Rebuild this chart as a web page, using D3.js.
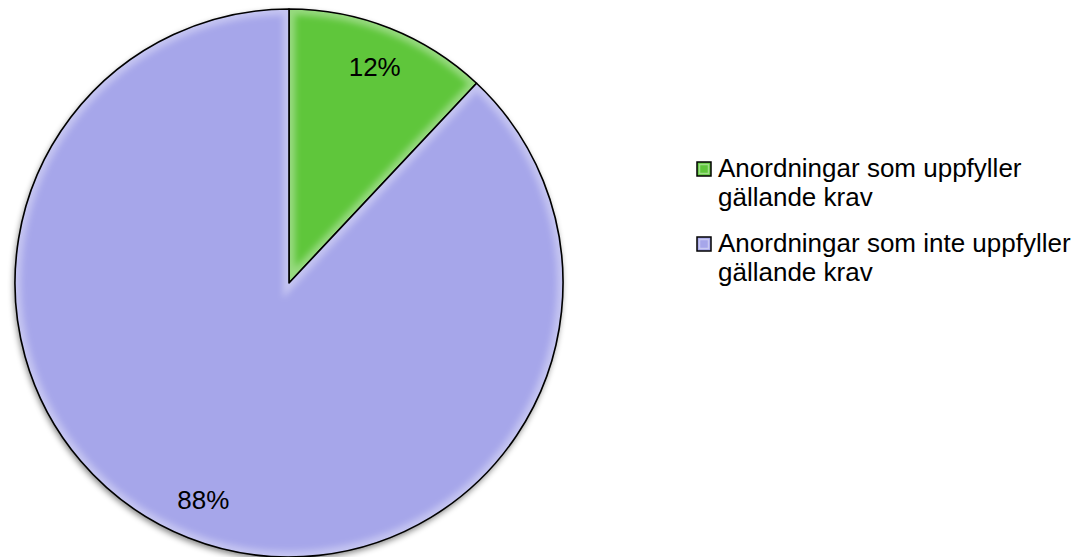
<!DOCTYPE html>
<html>
<head>
<meta charset="utf-8">
<script src="https://cdn.jsdelivr.net/npm/d3@7"></script>
<style>
  body { margin: 0; background: #fff; }
  svg { display: block; }
</style>
</head>
<body>
<div id="chart"></div>
<script>
// andelar (procent)
const categories = ["Anordningar som uppfyller gällande krav", "Anordningar som inte uppfyller gällande krav"]
const values = [12, 88]
const labels = ["12%", "88%"]
const legendLines = [["Anordningar som uppfyller", "gällande krav"], ["Anordningar som inte uppfyller", "gällande krav"]]
const colors = ["#5fc63b", "#a6a6ea"]

const width = 1083, height = 557
const cx = 289, cy = 283, radius = 274

const svg = d3.select("#chart").append("svg")
  .attr("width", width).attr("height", height)

const defs = svg.append("defs")
// skugga under cirkeln
const sh = defs.append("filter").attr("id", "shadow")
  .attr("x", "-10%").attr("y", "-10%").attr("width", "120%").attr("height", "120%")
sh.append("feGaussianBlur").attr("in", "SourceAlpha").attr("stdDeviation", 3)
sh.append("feOffset").attr("dx", -1).attr("dy", 3).attr("result", "b")
sh.append("feComponentTransfer").append("feFuncA").attr("type", "linear").attr("slope", 0.5)
const blur = defs.append("filter").attr("id", "soft")
blur.append("feGaussianBlur").attr("stdDeviation", 3)

const pie = d3.pie().sort(null).value(d => d)
const arcs = pie(values)
const arc = d3.arc().innerRadius(0).outerRadius(radius)

const g = svg.append("g").attr("transform", `translate(${cx},${cy})`)

// skugga
g.append("circle").attr("r", radius).attr("fill", "#000").attr("filter", "url(#shadow)")

arcs.forEach((a, i) => {
  defs.append("clipPath").attr("id", "clip" + i)
    .append("path").attr("d", arc(a))
})

const slices = g.selectAll(".slice").data(arcs).enter().append("g").attr("class", "slice")
slices.append("path")
  .attr("d", arc)
  .attr("fill", (d, i) => colors[i])
// fasad kant (ljus inre kant)
slices.append("g")
  .attr("clip-path", (d, i) => `url(#clip${i})`)
  .append("path")
  .attr("d", arc)
  .attr("fill", "none")
  .attr("stroke", "#fff")
  .attr("stroke-opacity", 0.35)
  .attr("stroke-width", 12)
  .attr("filter", "url(#soft)")
slices.append("path")
  .attr("d", arc)
  .attr("fill", "none")
  .attr("stroke", "#000")
  .attr("stroke-width", 1.6)
  .attr("stroke-linejoin", "round")

// etiketter
const labelArc = d3.arc().innerRadius(radius * 0.85).outerRadius(radius * 0.85)
g.selectAll(".lbl").data(arcs).enter().append("text")
  .attr("class", "lbl")
  .attr("x", d => labelArc.centroid(d)[0])
  .attr("y", d => labelArc.centroid(d)[1])
  .attr("dy", "0.35em")
  .attr("text-anchor", "middle")
  .style("font-family", "'Liberation Sans', Arial, sans-serif")
  .style("font-size", "26px")
  .attr("fill", "#000")
  .text((d, i) => labels[i])

// förklaring
const legend = svg.append("g").attr("transform", "translate(697,162)")
const items = legend.selectAll(".item").data(categories).enter().append("g")
  .attr("class", "item")
  .attr("transform", (d, i) => `translate(0,${i * 75})`)
items.append("rect")
  .attr("width", 14).attr("height", 14)
  .attr("fill", (d, i) => colors[i])
  .attr("stroke", "#000").attr("stroke-width", 1.5)
items.append("rect")
  .attr("x", 2.5).attr("y", 2.5).attr("width", 9).attr("height", 9)
  .attr("fill", "none").attr("stroke", "#fff").attr("stroke-opacity", 0.4).attr("stroke-width", 1.5)
const txt = items.append("text")
  .style("font-family", "'Liberation Sans', Arial, sans-serif")
  .style("font-size", "26px")
  .attr("fill", "#000")
txt.selectAll("tspan").data((d, i) => legendLines[i]).enter().append("tspan")
  .attr("x", 21)
  .attr("y", (d, j) => 15 + j * 29)
  .text(d => d)
</script>
</body>
</html>
